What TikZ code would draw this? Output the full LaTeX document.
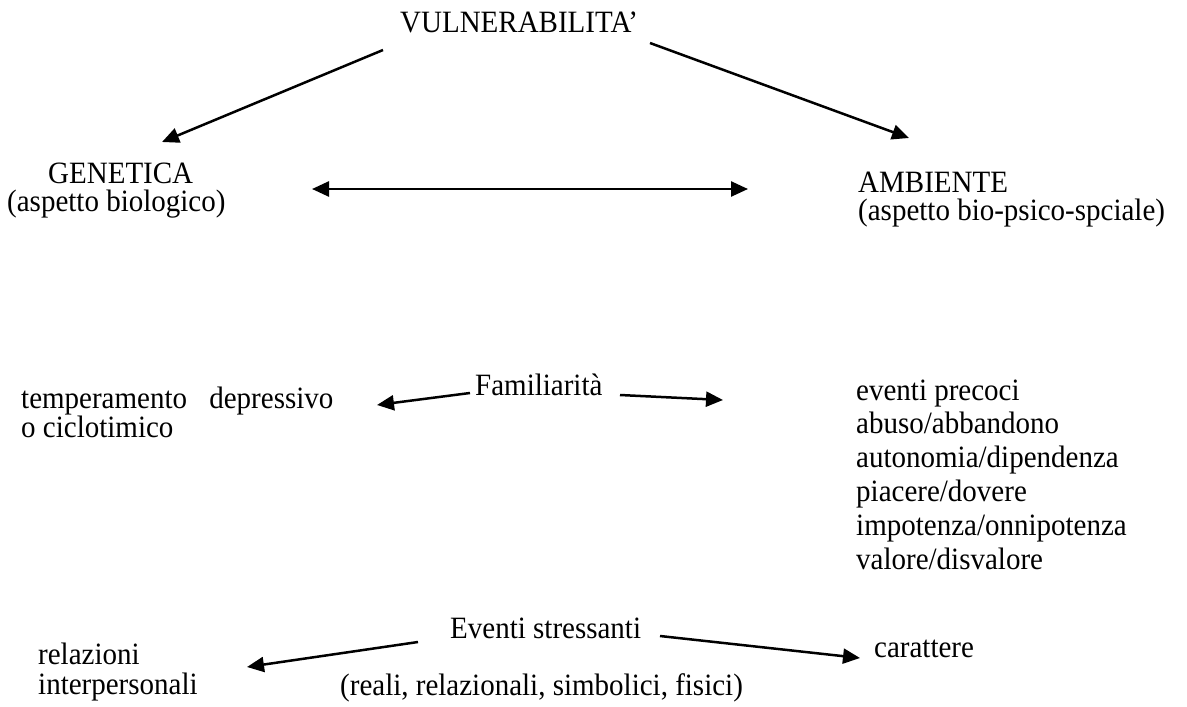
\documentclass[tikz,border=0pt]{standalone}
\usepackage{fontspec}
\usepackage{graphicx}
\setmainfont{Liberation Serif}
\usetikzlibrary{arrows.meta}
% slightly tall lettering
\newcommand\tall[1]{\scalebox{1}[1.07]{#1}}
\begin{document}
\begin{tikzpicture}[x=1pt,y=-1pt,
  lbl/.style={anchor=base west,inner sep=0pt,font=\fontsize{29}{33.6}\selectfont},
  conn/.style={line width=2.5pt,-{Triangle[length=17pt,width=15pt]}},
  twoway/.style={line width=2.5pt,{Triangle[length=17pt,width=15pt]}-{Triangle[length=17pt,width=15pt]}}]
\useasboundingbox (0,0) rectangle (1187,707);

% --- labels ---
\node[lbl] (vuln) at (400,32) {\tall{VULNERABILITA’}};

\node[lbl] (gen)  at (48,183) {\tall{GENETICA}};
\node[lbl] (genb) at (7,211)  {\tall{(aspetto biologico)}};

\node[lbl] (amb)  at (858,192) {\tall{AMBIENTE}};
\node[lbl] (ambb) at (858,220) {\tall{(aspetto bio-psico-spciale)}};

\node[lbl] (temp)  at (21,408) {\tall{temperamento\hspace{15pt} depressivo}};
\node[lbl] (tempb) at (21,437) {\tall{o ciclotimico}};

\node[lbl] (fam) at (475,395) {\tall{Familiarità}};

\node[lbl] (ev1) at (856,400.0) {\tall{eventi precoci}};
\node[lbl] (ev2) at (856,433.8) {\tall{abuso/abbandono}};
\node[lbl] (ev3) at (856,467.6) {\tall{autonomia/dipendenza}};
\node[lbl] (ev4) at (856,501.4) {\tall{piacere/dovere}};
\node[lbl] (ev5) at (856,535.2) {\tall{impotenza/onnipotenza}};
\node[lbl] (ev6) at (856,569.0) {\tall{valore/disvalore}};

\node[lbl] (str)  at (450,638) {\tall{Eventi stressanti}};
\node[lbl] (strb) at (340,695) {\tall{(reali, relazionali, simbolici, fisici)}};

\node[lbl] (rel)  at (38,664) {\tall{relazioni}};
\node[lbl] (relb) at (38,694) {\tall{interpersonali}};

\node[lbl] (car) at (874,657) {\tall{carattere}};

% --- connector end points ---
\coordinate (vulnL) at (383,50);
\coordinate (genT)  at (162,142);
\coordinate (vulnR) at (650,43);
\coordinate (ambT)  at (909,138);

\coordinate (genR) at (312,189);
\coordinate (ambL) at (748,189);

\coordinate (famL)  at (470,393);
\coordinate (tempR) at (377,405);
\coordinate (famR)  at (620,395);
\coordinate (evL)   at (723,400);

\coordinate (strL) at (418,642);
\coordinate (relR) at (247,667);
\coordinate (strR) at (660,636);
\coordinate (carL) at (860,658);

% --- connectors ---
\draw[conn] (vulnL) -- (genT);
\draw[conn] (vulnR) -- (ambT);
\draw[twoway] (genR) -- (ambL);
\draw[conn] (famL) -- (tempR);
\draw[conn] (famR) -- (evL);
\draw[conn] (strL) -- (relR);
\draw[conn] (strR) -- (carL);
\end{tikzpicture}
\end{document}
